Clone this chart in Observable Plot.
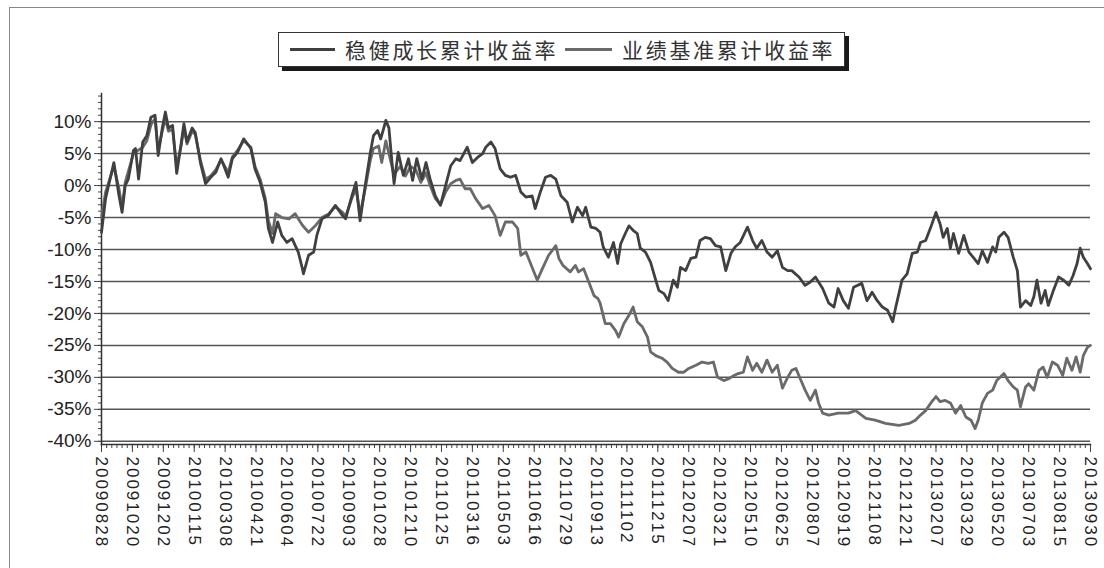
<!DOCTYPE html>
<html><head><meta charset="utf-8">
<script src="https://cdn.jsdelivr.net/npm/d3@7"></script>
<script src="https://cdn.jsdelivr.net/npm/@observablehq/plot@0.6"></script>
<style>
body{margin:0;background:#fff;width:1104px;height:568px;overflow:hidden;position:relative;font-family:"Liberation Sans",Arial,sans-serif}
#frame{position:absolute;left:9px;top:7px;width:1120px;height:600px;border-left:1.5px solid #888;border-top:1.5px solid #888}
#legend{position:absolute;left:278px;top:32px;width:565px;height:33px;border:1px solid #333;box-shadow:4px 4px 0 #1a1a1a;background:#fff;font-family:"Noto Sans CJK SC",sans-serif;font-size:21px;color:#333}
#legend .sw{position:absolute;top:15px;height:3px}
#legend .tx{position:absolute;top:1px;letter-spacing:2.7px;line-height:30px;white-space:nowrap}
#chart{position:absolute;left:0;top:75px}
#chart g[aria-label="x-axis tick label"] text{letter-spacing:2px}
</style></head>
<body>
<div id="frame"></div>
<div id="chart"></div>
<div id="legend">
  <span class="sw" style="left:11px;width:45px;background:#404040"></span>
  <span class="tx" style="left:66px">稳健成长累计收益率</span>
  <span class="sw" style="left:286px;width:47px;background:#6a6a6a"></span>
  <span class="tx" style="left:343px">业绩基准累计收益率</span>
</div>
<script>
const tickDays = [0,30,60,90,120,150,180,210,240,270,300,330,360,390,420,450,480,510,540,570,600,630,660,690,720,750,780,810,840,870,900,930,960];
const tickLabels = ["20090828","20091020","20091202","20100115","20100308","20100421","20100604","20100722","20100903","20101028","20101210","20110125","20110316","20110503","20110616","20110729","20110913","20111102","20111215","20120207","20120321","20120510","20120625","20120807","20120919","20121108","20121221","20130207","20130329","20130520","20130703","20130815","20130930"];
const yTicks = [-40,-35,-30,-25,-20,-15,-10,-5,0,5,10];

const fundDay = [0,4,12,17,20,23,26,31,33,36,40,44,48,52,55,59,62,65,69,73,77,80,83,88,91,96,101,106,111,116,118,123,127,132,138,145,149,154,159,162,166,171,175,180,185,191,195,196,201,206,209,214,220,227,234,237,243,247,251,256,261,264,268,271,274,276,279,282,284,288,293,298,302,306,311,315,319,324,329,334,339,344,348,355,360,365,370,373,378,382,387,392,397,402,407,412,418,421,426,431,436,441,446,452,457,462,467,470,475,480,484,487,492,497,501,504,509,512,516,520,523,528,533,538,541,546,550,555,559,562,567,572,577,581,586,591,596,601,606,611,615,620,627,632,636,641,646,651,656,661,666,670,677,683,688,693,700,706,711,715,720,725,730,738,743,748,753,758,763,768,771,774,777,782,787,792,795,800,805,810,814,817,821,824,827,832,837,842,846,851,855,860,865,868,871,876,880,885,889,892,897,902,905,908,912,916,919,924,929,934,939,943,947,950,953,957,960];
const fundRet = [-7.3,-2,3.6,-1.6,-4.2,0,1,5.5,5.8,1,6.8,7.8,10.7,11,4.7,9,11.5,9,9.4,1.9,6.2,9.7,6.8,9,8.3,3.6,0.3,1.3,2.1,4.2,3.4,1.3,4.2,5.2,7.3,5.8,2.6,0.5,-2.6,-6.7,-8.9,-5.7,-7.8,-8.9,-8.3,-10.4,-13,-13.8,-10.9,-10.4,-7.8,-5.2,-4.7,-3.1,-4.7,-5.2,-1.6,0.5,-5.5,0,5.2,7.8,8.6,7.3,9,10.2,9,3.6,0.3,5.2,1.6,4.2,0.8,4.2,1,3.6,1,-1.6,-3.1,0,3.1,4.2,3.9,6,3.6,4.4,5,6,6.8,5.8,2.6,1.6,1.3,1.6,-1,-1.8,-1.6,-3.6,-1,1.3,1.6,1,-1.6,-2.6,-5.7,-3.4,-4.7,-3.4,-6.5,-6.7,-7.3,-9.6,-11.2,-8.9,-12.2,-9.1,-7.3,-6.3,-7,-7.5,-9.8,-10.4,-12,-14.8,-16.4,-16.9,-18,-14.8,-15.9,-12.8,-13.3,-11.4,-11.2,-8.6,-8.1,-8.3,-9.4,-9.6,-13.3,-10.6,-9.6,-8.9,-6.5,-8.6,-9.8,-8.6,-10.4,-11.2,-10.2,-12.8,-13.3,-13.3,-14.3,-15.6,-15.1,-14.3,-16.1,-18.4,-19,-16.1,-18,-19.2,-15.9,-15.3,-18,-16.7,-18,-19,-19.5,-21.3,-19,-16.9,-14.8,-13.8,-10.6,-10.4,-8.9,-8.6,-6.5,-4.2,-6,-8.1,-6.7,-9.8,-7.5,-10.6,-7.8,-10.4,-11.2,-12.2,-10.2,-12,-9.6,-10.4,-8.1,-7.3,-8.1,-11.2,-13.3,-19,-18,-18.75,-17.4,-14.8,-18.4,-16.4,-18.75,-16.4,-14.3,-14.8,-15.6,-14.1,-12.2,-9.8,-11.2,-12.2,-13];

const benchDay = [0,4,12,17,20,23,31,40,44,48,52,55,59,62,65,69,73,77,80,83,88,91,96,101,106,111,116,118,123,127,132,138,145,149,154,159,162,166,169,175,182,188,195,201,208,214,220,227,234,237,243,247,251,256,261,264,269,272,276,279,283,285,290,295,300,305,310,315,319,324,329,334,339,344,348,353,358,363,370,376,382,387,392,399,404,407,412,416,423,428,434,441,444,448,455,460,463,468,473,478,482,484,489,494,499,502,507,512,516,520,525,530,533,538,544,549,554,560,565,570,577,583,589,594,598,604,609,614,618,623,627,632,636,641,646,651,656,661,666,670,674,679,683,688,693,696,700,706,715,725,732,742,751,761,774,784,790,795,800,805,810,814,819,824,829,834,839,844,848,851,855,860,865,869,876,880,885,889,892,897,900,905,910,914,918,923,928,933,937,942,946,950,953,957,960];
const benchRet = [-5,-1,3,-0.5,-3.5,0.5,5,6,7,9.5,10.5,5.5,8.5,10.5,8.5,8.8,3,6,9,6.5,8.5,8,4,1,1.5,2.5,4,3.5,2,4.5,5.5,7,6,3,1,-2,-5.5,-7.5,-4.4,-5,-5.2,-4.4,-6.2,-7.3,-6.2,-5,-4.5,-3.3,-4.2,-4.8,-2,-0.5,-4.5,-0.5,4,5.8,6.2,3.6,7,5,2.3,2,3,1.5,3,2.5,0.5,2,0,-2,-3,-1,0.3,0.8,1,-0.5,-0.5,-2,-3.6,-3.1,-4.7,-7.8,-5.7,-5.7,-6.7,-10.9,-10.4,-12,-14.8,-13,-10.9,-9.4,-11.4,-12.5,-13.5,-12.5,-13.5,-13,-15.1,-17.2,-17.7,-18.4,-21.6,-21.6,-22.7,-23.7,-21.6,-20.3,-19,-21.3,-22.1,-23.7,-26,-26.6,-27,-27.6,-28.6,-29.2,-29.2,-28.6,-28.1,-27.6,-27.8,-27.6,-30,-30.5,-30.2,-29.7,-29.4,-29.2,-26.8,-28.9,-27.8,-29.2,-27.3,-29.2,-28.1,-31.7,-30,-28.9,-28.6,-30.5,-32,-33.6,-32,-34,-35.6,-35.9,-35.6,-35.6,-35.2,-36.4,-36.7,-37.2,-37.5,-37.2,-36.7,-35.9,-35.2,-34,-33,-33.8,-33.6,-34,-35.6,-34.4,-36.2,-36.7,-38,-36.7,-34,-32.5,-32,-30.5,-29.4,-30.5,-31.5,-32,-34.6,-31.5,-31,-32,-28.9,-28.4,-30,-27.6,-28.1,-29.7,-27,-28.9,-26.8,-29.2,-26.6,-25.3,-25];

const fund = fundDay.map((d, i) => ({day: d, r: fundRet[i]}));
const bench = benchDay.map((d, i) => ({day: d, r: benchRet[i]}));
const labelOf = new Map(tickDays.map((d, i) => [d, tickLabels[i]]));

const chart = Plot.plot({
  width: 1104, height: 493,
  marginLeft: 101, marginRight: 14, marginTop: 18, marginBottom: 124,
  style: {fontFamily: "'Liberation Sans', Arial, sans-serif", color: "#222", background: "transparent", overflow: "visible"},
  x: {domain: [0, 960], axis: null},
  y: {domain: [-40.5, 14.4], axis: null},
  marks: [
    Plot.ruleY(yTicks, {stroke: "#555", strokeWidth: 1.5}),
    Plot.axisY({ticks: d3.range(-40, 15, 1), tickSize: 3, tickFormat: () => "", label: null, stroke: "#444"}),
    Plot.axisY({ticks: yTicks, tickSize: 7, tickPadding: 3, tickFormat: d => d + "%", label: null, fontSize: 19, stroke: "#444"}),
    Plot.axisX({ticks: d3.range(0, 961, 5), tickSize: 4, tickFormat: () => "", label: null, stroke: "#444"}),
    Plot.axisX({ticks: tickDays, tickSize: 8, tickPadding: 4, tickRotate: 90, tickFormat: d => labelOf.get(d), label: null, fontSize: 17, stroke: "#444"}),
    Plot.frame({anchor: "left", stroke: "#333", strokeWidth: 1.5}),
    Plot.frame({anchor: "bottom", stroke: "#333", strokeWidth: 1.5}),
    Plot.line(bench, {x: "day", y: "r", stroke: "#6a6a6a", strokeWidth: 2.8}),
    Plot.line(fund, {x: "day", y: "r", stroke: "#404040", strokeWidth: 2.8})
  ]
});
document.getElementById("chart").appendChild(chart);
</script>
</body></html>
